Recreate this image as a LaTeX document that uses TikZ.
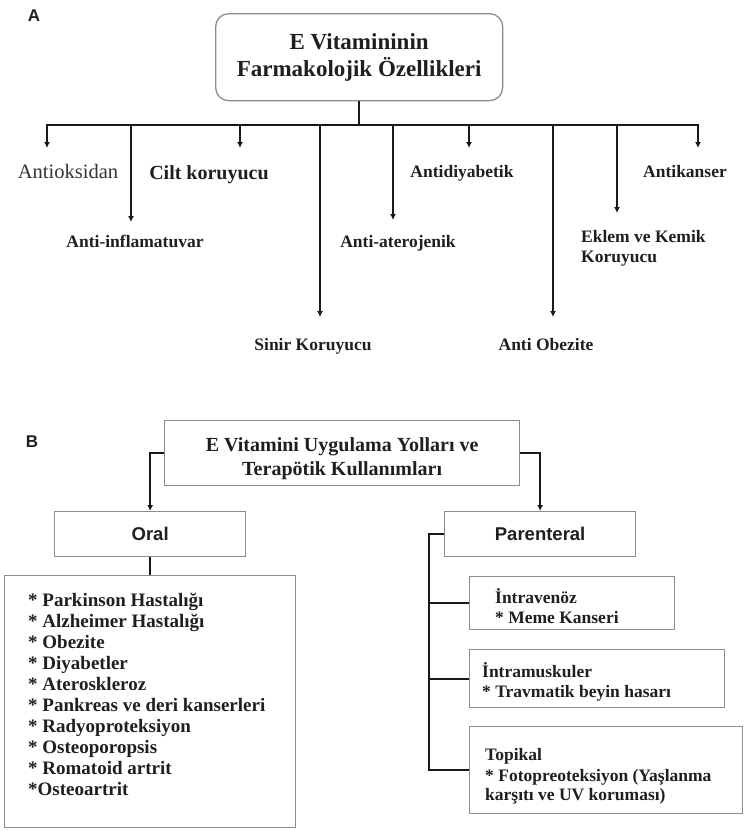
\documentclass[tikz,border=0pt]{standalone}
\usepackage{fontspec}
\setmainfont{Liberation Serif}
\newfontfamily\arialfont{Liberation Sans}
\usetikzlibrary{arrows.meta}

\begin{document}
\begin{tikzpicture}[
        x=1pt, y=-1pt,
        >={Latex[length=6pt,width=6pt]},
        conn/.style={draw=black!90, line width=2pt},
        gbox/.style={draw=black!45, line width=1.3pt, inner sep=0pt},
        lbl/.style={inner sep=0pt, text=black!88, font=\bfseries\fontsize{17.5}{20}\selectfont},
        item/.style={lbl, anchor=base west, font=\bfseries\fontsize{19}{21}\selectfont},
        sanslbl/.style={inner sep=0pt, text=black!88, font=\arialfont\bfseries\fontsize{17}{20}\selectfont},
        rbox/.style={gbox, text=black!88, font=\arialfont\bfseries\fontsize{18.5}{22}\selectfont}
        ]
        \useasboundingbox (0,0) rectangle (744,831);

        \node[sanslbl] (labA) at (34,16) {A};
        \node[gbox, rounded corners=13pt, minimum width=287pt, minimum height=87pt, anchor=north west,
              align=center, text=black!88, font=\bfseries\fontsize{23}{27}\selectfont] (titleA) at (215,13)
              {E Vitamininin\\Farmakolojik Özellikleri};

        \coordinate (bus) at (0,125);
        \foreach \x/\y/\n in {47/148/ao, 131/222/ai, 240/148/ck, 320/317/sk, 393/220/at,
                              469/148/ad, 553/317/ob, 617/213/ek, 698/148/ak}
            \coordinate (tip\n) at (\x,\y);
        \draw[conn] (titleA.south) -- (titleA.south |- bus);
        \draw[conn, <->] (tipao) |- (tipak |- bus) -- (tipak);
        \foreach \n in {ai, ck, sk, at, ad, ob, ek}
            \draw[conn, ->] (tip\n |- bus) -- (tip\n);

        \node[lbl, anchor=base, text=black!80, font=\fontsize{20.5}{24}\selectfont] (antiok) at (68,178) {Antioksidan};
        \node[lbl, anchor=base, font=\bfseries\fontsize{20}{24}\selectfont] (cilt) at (209,179) {Cilt koruyucu};
        \node[lbl, anchor=base] (antidy) at (462,177) {Antidiyabetik};
        \node[lbl, anchor=base] (antika) at (685,177) {Antikanser};
        \node[lbl, anchor=base] (antiin) at (135,247) {Anti-inflamatuvar};
        \node[lbl, anchor=base] (antiat) at (398,247) {Anti-aterojenik};
        \node[lbl, anchor=base west] (eklem1) at (581,242) {Eklem ve Kemik};
        \node[lbl, anchor=base west] (eklem2) at (581,262) {Koruyucu};
        \node[lbl, anchor=base] (sinir) at (313,350) {Sinir Koruyucu};
        \node[lbl, anchor=base] (obez) at (546,350) {Anti Obezite};

        \node[sanslbl] (labB) at (32,442) {B};
        \node[gbox, minimum width=355pt, minimum height=65pt, anchor=north west] (titleB) at (164,420) {};
        \node[lbl, align=center, font=\bfseries\fontsize{20}{24}\selectfont] (titleBtxt)
              at ([yshift=-6pt]titleB.center) {E Vitamini Uygulama Yolları ve\\Terapötik Kullanımları};

        \node[rbox, minimum width=191pt, minimum height=45pt, anchor=north west] (oral) at (54,511) {Oral};
        \node[rbox, minimum width=191pt, minimum height=45pt, anchor=north west] (parent) at (444,511) {Parenteral};
        \draw[conn, ->] (titleB.west) -| (oral.north);
        \draw[conn, ->] (titleB.east) -| (parent.north);

        \node[gbox, minimum width=291pt, minimum height=252pt, anchor=north west] (list) at (4,575) {};
        \draw[conn] (oral.south) -- (list.north);
        \foreach \t [count=\i from 0] in {* Parkinson Hastalığı, * Alzheimer Hastalığı, * Obezite,
                    * Diyabetler, * Ateroskleroz, * Pankreas ve deri kanserleri, * Radyoproteksiyon,
                    * Osteoporopsis, * Romatoid artrit, *Osteoartrit}
            \node[item] (item\i) at (28,{606+21.1*\i}) {\t};

        \node[gbox, minimum width=205pt, minimum height=53pt, anchor=north west] (iv) at (469,576) {};
        \node[gbox, minimum width=255pt, minimum height=58pt, anchor=north west] (im) at (469,649) {};
        \node[gbox, minimum width=273pt, minimum height=87pt, anchor=north west] (top) at (469,726) {};
        \coordinate (spine) at (429,0);
        \draw[conn] (parent.west) -| (spine |- top.west) -- (top.west);
        \draw[conn] (spine |- iv.west) -- (iv.west);
        \draw[conn] (spine |- im.west) -- (im.west);

        \node[lbl, anchor=base west] (iv1) at (495,603) {İntravenöz};
        \node[lbl, anchor=base west] (iv2) at (495,623) {* Meme Kanseri};
        \node[lbl, anchor=base west] (im1) at (482,677) {İntramuskuler};
        \node[lbl, anchor=base west] (im2) at (482,697) {* Travmatik beyin hasarı};
        \node[lbl, anchor=base west] (top1) at (485,760) {Topikal};
        \node[lbl, anchor=base west] (top2) at (485,781) {* Fotopreoteksiyon (Yaşlanma};
        \node[lbl, anchor=base west] (top3) at (485,800) {karşıtı ve UV koruması)};
\end{tikzpicture}
\end{document}
